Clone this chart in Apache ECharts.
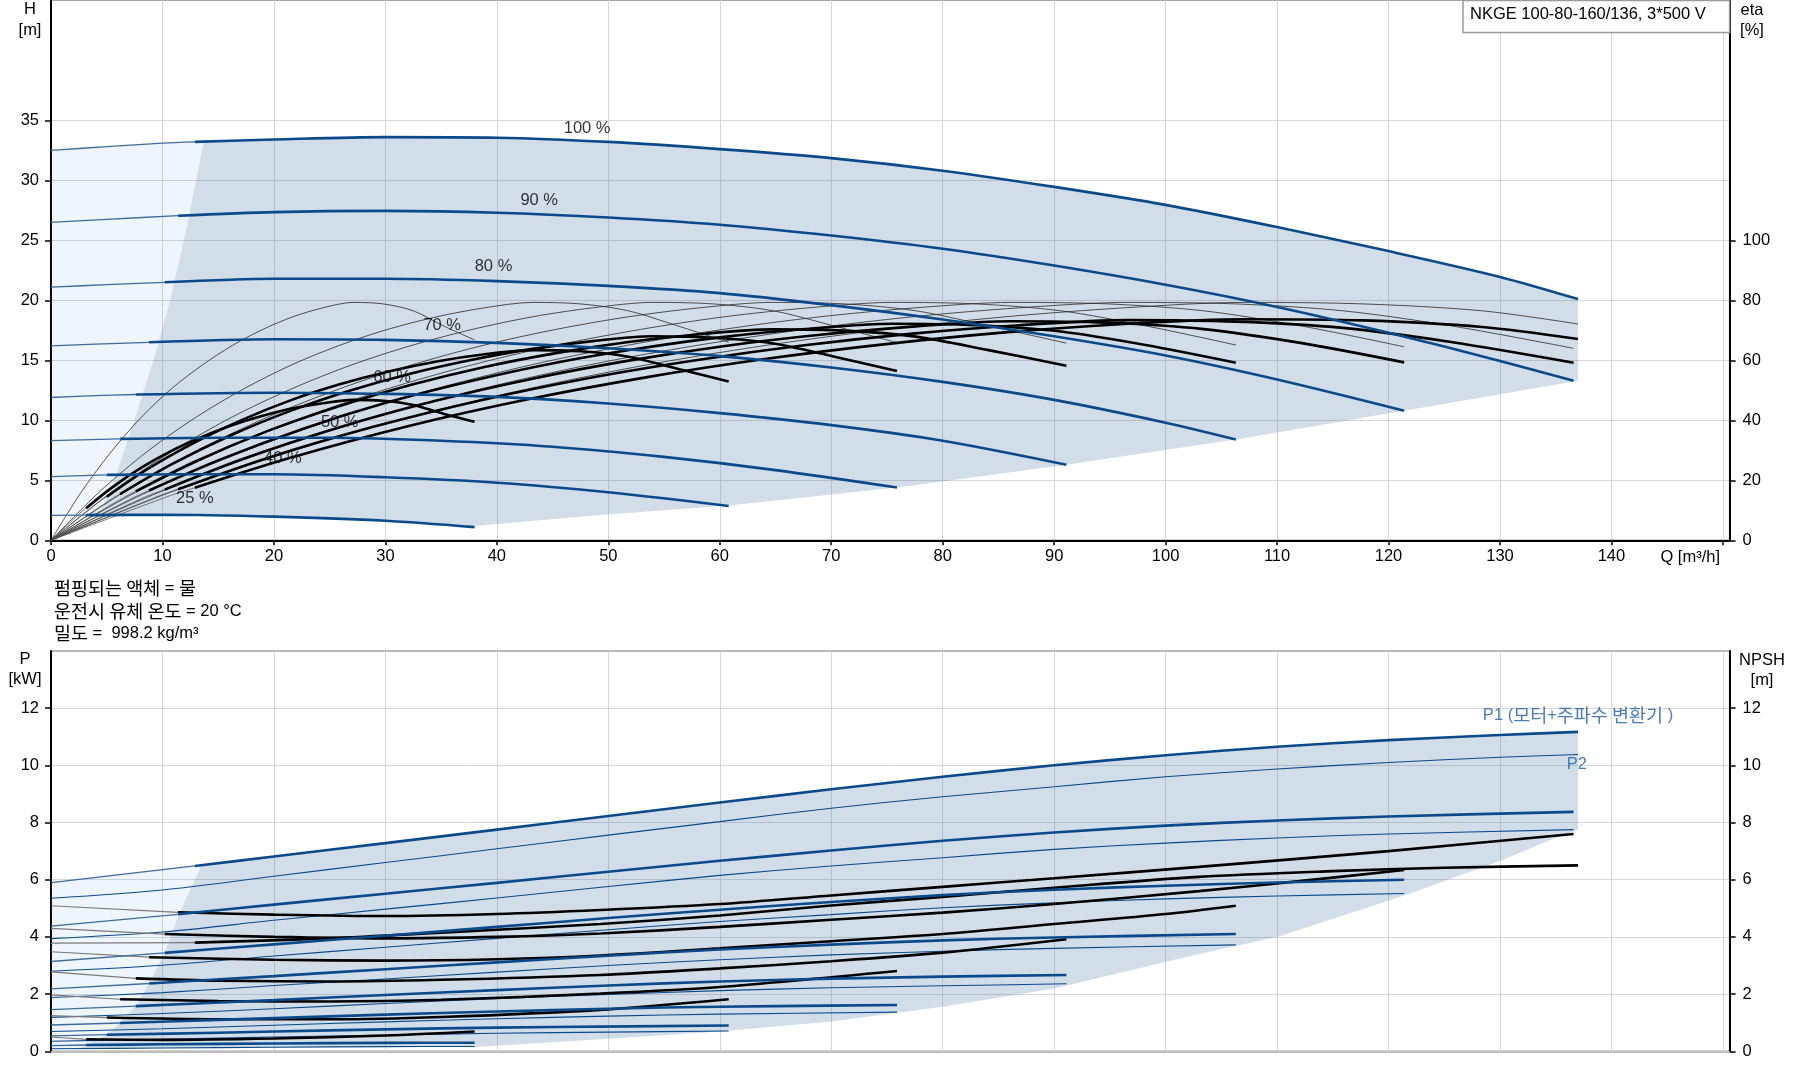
<!DOCTYPE html>
<html>
<head>
<meta charset="utf-8">
<title>NKGE 100-80-160/136</title>
<script src="https://cdn.jsdelivr.net/npm/echarts@6/dist/echarts.min.js"></script>
<style>
  html, body { margin: 0; padding: 0; background: #fff; }
  #chart { width: 1795px; height: 1081px; }
</style>
</head>
<body>
<div id="chart"></div>
<script>
// ---- values ----
const qTicks = [0, 10, 20, 30, 40, 50, 60, 70, 80, 90, 100, 110, 120, 130, 140];
const hTicks = [0, 5, 10, 15, 20, 25, 30, 35];
const etaTicks = [0, 20, 40, 60, 80, 100];
const pTicks = [0, 2, 4, 6, 8, 10, 12];

const speedNames = ['100 %', '90 %', '80 %', '70 %', '60 %', '50 %', '40 %', '25 %'];
const speedLabelQ = [48.1, 43.8, 39.7, 35.1, 30.6, 25.9, 20.8, 12.9];
const speedLabelH = [34.3, 28.3, 22.8, 17.9, 13.6, 9.8, 6.8, 3.5];
// flow where each speed curve turns from thin to thick
const thickFrom = [12.9, 11.4, 10.2, 8.8, 7.6, 6.2, 5.0, 3.15];

// head curves [Q, H]
const h100 = [[0,32.5],[5,32.8],[10,33.1],[12.9,33.2],[20,33.4],[30,33.6],[40,33.55],[50,33.2],[60,32.6],[70,31.85],[80,30.8],[90,29.45],[100,27.95],[110,26.1],[120,24.1],[130,21.95],[137,20.1]];
const h90 = [[0,26.5],[5,26.75],[11.4,27.05],[20,27.35],[30,27.45],[40,27.3],[50,26.9],[60,26.3],[70,25.4],[80,24.3],[90,22.9],[100,21.3],[110,19.45],[120,17.3],[130,14.95],[136.6,13.3]];
const h80 = [[0,21.1],[5,21.3],[10.2,21.5],[20,21.8],[30,21.8],[40,21.6],[50,21.2],[60,20.6],[70,19.6],[80,18.4],[90,17.0],[100,15.4],[110,13.4],[121.4,10.8]];
const h70 = [[0,16.2],[4,16.35],[8.8,16.5],[20,16.75],[30,16.7],[40,16.45],[50,16.0],[60,15.35],[70,14.4],[80,13.2],[90,11.7],[100,9.8],[106.3,8.4]];
const h60 = [[0,11.9],[4,12.05],[7.6,12.15],[20,12.3],[30,12.2],[40,11.95],[50,11.4],[60,10.6],[70,9.6],[80,8.3],[91.1,6.3]];
const h50 = [[0,8.3],[6.2,8.45],[15,8.55],[25,8.55],[35,8.3],[45,7.8],[55,6.95],[65,5.85],[75.9,4.4]];
const h40 = [[0,5.3],[5,5.45],[12,5.5],[20,5.5],[30,5.25],[40,4.8],[50,4.0],[60.8,2.86]];
const h25 = [[0,2.08],[3.15,2.1],[10,2.13],[20,1.97],[30,1.63],[38,1.1]];

// pump efficiency (thin) [Q, eta %]
const etaPump100 = [[0,0],[10.7,16],[21.4,29.5],[32.1,41],[42.8,50.5],[53.5,58.5],[64.2,65],[74.9,70.3],[85.6,74.5],[96.3,77.5],[107,79.3],[117.7,78.8],[128.4,76.5],[137,72.1]];
const etaPump90 = [[0,0],[9.7,16],[19.3,29.5],[29,41],[38.6,50.5],[48.3,58.5],[58,65],[67.6,70.3],[77.3,74.5],[86.9,77.5],[96.6,79.3],[106.3,78.8],[115.9,76.5],[125.6,71.5],[136.6,64]];
const etaPump80 = [[0,0],[8.6,16],[17.2,29.5],[25.9,41],[34.5,50.5],[43.1,58.5],[51.7,65],[60.3,70.3],[69,74.5],[77.6,77.5],[86.2,79.3],[94.8,78.8],[103.4,76.5],[112.1,71.5],[121.4,64.5]];
const etaPump70 = [[0,0],[7.6,16],[15.1,29.5],[22.7,41],[30.2,50.5],[37.8,58.5],[45.3,65],[52.9,70.3],[60.4,74.5],[68,77.5],[75.5,79.3],[83,78.8],[90.6,76.5],[98.2,71.5],[106.3,65.1]];
const etaPump60 = [[0,0],[6.5,16],[12.9,29.5],[19.4,41],[25.9,50.5],[32.4,58.5],[38.8,65],[45.3,70.3],[51.8,74.5],[58.2,77.5],[64.7,79.3],[71.2,78.8],[77.6,76.5],[84.1,71.5],[91.1,65.7]];
const etaPump50 = [[0,0],[5.4,16],[10.8,29.5],[16.2,41],[21.6,50.5],[27,58.5],[32.4,65],[37.8,70.3],[43.2,74.5],[48.6,77.5],[54,79.3],[59.4,78.8],[64.8,76.5],[70.2,71.5],[75.9,65.9]];
const etaPump40 = [[0,0],[4.3,16],[8.6,29.5],[13,41],[17.3,50.5],[21.6,58.5],[25.9,65],[30.2,70.3],[34.6,74.5],[38.9,77.5],[43.2,79.3],[47.5,78.8],[51.8,76.5],[56.2,71.5],[60.8,66]];
const etaPump25 = [[0,0],[2.7,16],[5.4,29.5],[8.1,41],[10.8,50.5],[13.6,58.5],[16.3,65],[19,70.3],[21.7,74.5],[24.4,77.5],[27.1,79.3],[29.8,78.8],[32.5,76.5],[35.2,71.5],[38,66.8]];

// total efficiency (thick inside the operating area) [Q, eta %]
const etaTot100 = [[0,0],[10.7,14.9],[12.9,17.5],[21.4,27.4],[32.1,38.1],[42.8,47],[53.5,54.4],[64.2,60.5],[74.9,65.4],[85.6,69.3],[96.3,72.1],[107,73.7],[117.7,73.3],[128.4,71.1],[137,67.1]];
const etaTot90 = [[0,0],[9.7,14.8],[11.4,17],[19.3,27.3],[29,37.9],[38.6,46.7],[48.3,54.1],[58,60.1],[67.6,65],[77.3,68.9],[86.9,71.7],[96.6,73.4],[106.3,72.9],[115.9,70.8],[125.6,66.1],[136.6,59.2]];
const etaTot80 = [[0,0],[8.6,14.7],[10.2,16.9],[17.2,27.1],[25.9,37.7],[34.5,46.5],[43.1,53.8],[51.7,59.8],[60.3,64.7],[69,68.5],[77.6,71.3],[86.2,73],[94.8,72.5],[103.4,70.4],[112.1,65.8],[121.4,59.3]];
const etaTot70 = [[0,0],[7.6,14.6],[8.8,16.6],[15.1,26.8],[22.7,37.3],[30.2,46],[37.8,53.2],[45.3,59.2],[52.9,64],[60.4,67.8],[68,70.5],[75.5,72.2],[83,71.7],[90.6,69.6],[98.2,65.1],[106.3,59.2]];
const etaTot60 = [[0,0],[6.5,14.2],[7.6,16.3],[12.9,26.2],[19.4,36.4],[25.9,44.8],[32.4,51.9],[38.8,57.7],[45.3,62.4],[51.8,66.1],[58.2,68.7],[64.7,70.3],[71.2,69.9],[77.6,67.9],[84.1,63.4],[91.1,58.2]];
const etaTot50 = [[0,0],[5.4,13.7],[6.2,15.4],[10.8,25.3],[16.2,35.1],[21.6,43.3],[27,50.1],[32.4,55.7],[37.8,60.2],[43.2,63.8],[48.6,66.4],[54,68],[59.4,67.5],[64.8,65.6],[70.2,61.3],[75.9,56.4]];
const etaTot40 = [[0,0],[4.3,12.8],[5,14.5],[8.6,23.6],[13,32.8],[17.3,40.4],[21.6,46.8],[25.9,52],[30.2,56.2],[34.6,59.6],[38.9,62],[43.2,63.4],[47.5,63],[51.8,61.2],[56.2,57.2],[60.8,52.9]];
const etaTot25 = [[0,0],[2.7,9.4],[3.15,10.7],[5.4,17.4],[8.1,24.2],[10.8,29.8],[13.6,34.5],[16.3,38.4],[19,41.5],[21.7,44],[24.4,45.7],[27.1,46.8],[29.8,46.5],[32.5,45.1],[35.2,42.2],[38,39.5]];

// operating area outline, upper chart [Q, H]
const minFlowEdge = [[3.15,2.1],[4.5,2.5],[5.4,4.2],[7.4,9.8],[9.2,15],[10.7,20],[12.3,26.6],[13.7,33.2]];
const maxFlowEdge = [[137,20.1],[137,13.3],[121.4,10.8],[106.3,8.4],[91.1,6.3],[75.9,4.4],[60.8,2.9],[49.3,2.1],[38,1.2]];

// power P1 (motor + converter) [Q, kW]
const p1_100 = [[0,5.9],[12.9,6.48],[20,6.81],[30,7.28],[40,7.75],[50,8.23],[60,8.7],[70,9.16],[80,9.6],[90,10.0],[100,10.35],[110,10.65],[120,10.88],[130,11.06],[137,11.17]];
const p1_90 = [[0,4.38],[11.4,4.79],[20,5.13],[30,5.51],[40,5.89],[50,6.28],[60,6.66],[70,7.02],[80,7.36],[90,7.65],[100,7.89],[110,8.07],[120,8.21],[136.6,8.37]];
const p1_80 = [[0,3.14],[10.2,3.44],[20,3.74],[30,4.04],[40,4.35],[50,4.66],[60,4.95],[70,5.22],[80,5.46],[90,5.65],[100,5.79],[110,5.9],[121.4,6.0]];
const p1_70 = [[0,2.18],[8.8,2.37],[20,2.63],[30,2.87],[40,3.11],[50,3.34],[60,3.56],[70,3.73],[80,3.88],[90,3.98],[106.3,4.1]];
const p1_60 = [[0,1.46],[7.6,1.58],[20,1.79],[30,1.97],[40,2.14],[50,2.3],[60,2.44],[70,2.54],[80,2.61],[91.1,2.67]];
const p1_50 = [[0,0.92],[6.2,0.99],[15,1.1],[25,1.22],[35,1.34],[45,1.44],[55,1.53],[65,1.58],[75.9,1.62]];
const p1_40 = [[0,0.54],[5,0.58],[15,0.65],[25,0.73],[35,0.8],[45,0.85],[60.8,0.9]];
const p1_25 = [[0,0.2],[3.15,0.22],[10,0.245],[20,0.275],[30,0.296],[38,0.3]];

// shaft power P2 [Q, kW]
const p2_100 = [[0,5.35],[10,5.64],[20,6.12],[30,6.6],[40,7.08],[50,7.56],[60,8.03],[70,8.5],[80,8.9],[90,9.25],[100,9.6],[110,9.87],[120,10.1],[130,10.28],[137,10.38]];
const p2_90 = [[0,3.94],[10,4.17],[20,4.58],[30,4.97],[40,5.36],[50,5.76],[60,6.15],[70,6.48],[80,6.77],[90,7.06],[100,7.28],[110,7.46],[120,7.6],[136.6,7.75]];
const p2_80 = [[0,2.8],[10,3.01],[20,3.33],[30,3.64],[40,3.95],[50,4.25],[60,4.54],[70,4.78],[80,5.02],[90,5.19],[100,5.33],[110,5.43],[121.4,5.52]];
const p2_70 = [[0,1.88],[10,2.05],[20,2.3],[30,2.53],[40,2.77],[50,3.0],[60,3.2],[70,3.37],[80,3.5],[90,3.6],[106.3,3.72]];
const p2_60 = [[0,1.185],[10,1.32],[20,1.49],[30,1.67],[40,1.84],[50,1.99],[60,2.12],[70,2.22],[80,2.29],[91.1,2.36]];
const p2_50 = [[0,0.69],[10,0.79],[20,0.91],[30,1.03],[40,1.14],[50,1.23],[60,1.3],[75.9,1.37]];
const p2_40 = [[0,0.35],[10,0.42],[20,0.5],[30,0.57],[40,0.63],[50,0.67],[60.8,0.71]];
const p2_25 = [[0,0.087],[10,0.114],[20,0.144],[30,0.163],[38,0.17]];

// NPSH [Q, m]
const npsh100 = [[0,3.78],[12.9,3.8],[25,3.95],[35,4.15],[49.3,4.45],[60,4.75],[70,5.1],[80,5.4],[90,5.72],[103,6.1],[115,6.3],[125,6.42],[137,6.5]];
const npsh90 = [[0,5.09],[11.4,4.86],[20,4.78],[30,4.73],[40,4.8],[49.3,4.94],[60,5.15],[70,5.45],[80,5.75],[90,6.05],[103,6.45],[120,7.0],[136.6,7.6]];
const npsh80 = [[0,4.3],[10.2,4.1],[20,4.0],[30,3.95],[40,4.0],[49.3,4.12],[60,4.35],[70,4.6],[80,4.85],[90,5.15],[103,5.6],[112,5.95],[121.4,6.34]];
const npsh70 = [[0,3.48],[8.8,3.29],[20,3.2],[30,3.17],[40,3.22],[49.3,3.35],[60,3.6],[70,3.85],[80,4.1],[90,4.45],[100,4.8],[106.3,5.09]];
const npsh60 = [[0,2.78],[7.6,2.55],[15,2.47],[25,2.44],[35,2.5],[49.3,2.67],[60,2.9],[70,3.15],[80,3.45],[91.1,3.92]];
const npsh50 = [[0,1.97],[6.2,1.82],[15,1.76],[25,1.74],[35,1.8],[49.3,2.02],[60,2.25],[75.9,2.81]];
const npsh40 = [[0,1.25],[5,1.18],[15,1.12],[25,1.12],[35,1.2],[49.3,1.45],[60.8,1.82]];
const npsh25 = [[0,0.5],[3.15,0.42],[10,0.4],[20,0.45],[30,0.55],[38,0.69]];

// operating area outline, lower chart [Q, kW]
const pMinFlowEdge = [[2.5,0.1],[3.15,0.22],[5,0.58],[6.2,1.0],[7.6,1.58],[8.8,2.37],[10.2,3.45],[11.5,4.8],[13.5,6.5]];
const pMaxFlowEdge = [[137,11.17],[137,7.75],[134.5,7.39],[130,6.65],[121.4,5.45],[110,4.0],[103,3.4],[90,2.2],[80,1.56],[70,1.04],[60,0.69],[49.3,0.42],[38,0.15]];

const p1LabelAt = [137.0, 11.76];
const p2LabelAt = [136.9, 10.04];

const headCurves = [h100, h90, h80, h70, h60, h50, h40, h25];
const etaPumpCurves = [etaPump100, etaPump90, etaPump80, etaPump70, etaPump60, etaPump50, etaPump40, etaPump25];
const etaTotCurves = [etaTot100, etaTot90, etaTot80, etaTot70, etaTot60, etaTot50, etaTot40, etaTot25];
const p1Curves = [p1_100, p1_90, p1_80, p1_70, p1_60, p1_50, p1_40, p1_25];
const p2Curves = [p2_100, p2_90, p2_80, p2_70, p2_60, p2_50, p2_40, p2_25];
const npshCurves = [npsh100, npsh90, npsh80, npsh70, npsh60, npsh50, npsh40, npsh25];

// ---- styling ----
const FONT = '"Liberation Sans", Arial, sans-serif';
const KFONT = '"Noto Sans CJK KR", "Liberation Sans", sans-serif';
const FS = 16.5;
const BLUE = '#0b4a8a';
const BLUE_THIN = '#3f6c9c';
const DARK_FILL = 'rgba(71,119,163,0.25)';
const LIGHT_FILL = 'rgba(85,155,225,0.10)';
const richKo = (color, size) => ({
  l: { fontFamily: FONT, fontSize: FS, color },
  k: { fontFamily: KFONT, fontSize: size, color }
});

const series = [];

function line(data, xi, yi, color, width, z) {
  return {
    type: 'line', xAxisIndex: xi, yAxisIndex: yi, data,
    symbol: 'none', smooth: 0.3, silent: true, z,
    lineStyle: { color, width }
  };
}
function splitLine(pts, from, xi, yi, thick, thin, thinW, z) {
  series.push(line(pts.filter(p => p[0] <= from), xi, yi, thin, thinW, z));
  series.push(line(pts.filter(p => p[0] >= from), xi, yi, thick, 2.6, z + 1));
}
function area(points, fill, xi, yi) {
  series.push({
    type: 'custom', xAxisIndex: xi, yAxisIndex: yi, silent: true, z: 1, clip: true,
    data: [[0, 0]],
    renderItem: (params, api) => ({
      type: 'polygon',
      shape: { points: points.map(p => api.coord(p)) },
      style: { fill }
    })
  });
}

// upper operating area
const topDark = [[13.7, 33.2]].concat(h100.filter(p => p[0] > 13.7));
const lowerH25 = h25.filter(p => p[0] < 38 && p[0] > 3.15).reverse();
area(topDark.concat(maxFlowEdge.slice(1), lowerH25, minFlowEdge), DARK_FILL, 0, 0);
area(h100.filter(p => p[0] < 13.7).concat(minFlowEdge.slice().reverse(), [[0, 2.08]]), LIGHT_FILL, 0, 0);

// lower operating area
const topDarkP = [[13.5, 6.5]].concat(p1_100.filter(p => p[0] > 13.5));
const lowerP = [[30, 0.163], [20, 0.144], [10, 0.114]];
area(topDarkP.concat(pMaxFlowEdge.slice(1), lowerP, pMinFlowEdge), DARK_FILL, 1, 2);
area(p1_100.filter(p => p[0] < 13.5).concat(pMinFlowEdge.slice().reverse(), [[0, 0.087]]), LIGHT_FILL, 1, 2);

for (let i = 0; i < 8; i++) {
  // upper chart
  series.push(line(etaPumpCurves[i], 0, 1, '#2a2a2a', 0.8, 3));
  splitLine(etaTotCurves[i], thickFrom[i], 0, 1, '#000', '#555', 0.8, 4);
  splitLine(headCurves[i], thickFrom[i], 0, 0, BLUE, BLUE_THIN, 1.3, 6);
  // lower chart
  series.push(line(p2Curves[i], 1, 2, BLUE, 1.1, 3));
  splitLine(npshCurves[i], thickFrom[i], 1, 3, '#000', '#7a7a7a', 1.2, 4);
  splitLine(p1Curves[i], thickFrom[i], 1, 2, BLUE, BLUE_THIN, 1.3, 6);
}

// curve labels
series.push({
  type: 'scatter', xAxisIndex: 0, yAxisIndex: 0, symbol: 'rect', symbolSize: 1, silent: true, z: 10,
  itemStyle: { color: 'transparent' },
  label: { show: true, position: 'inside', formatter: '{b}', color: '#000', fontSize: FS, fontFamily: FONT },
  data: speedNames.map((n, i) => ({ name: n, value: [speedLabelQ[i], speedLabelH[i]] }))
});
series.push({
  type: 'scatter', xAxisIndex: 1, yAxisIndex: 2, symbol: 'rect', symbolSize: 1, silent: true, z: 10,
  itemStyle: { color: 'transparent' },
  label: { show: true, position: 'inside', formatter: '{b}', color: '#1d5da4', fontSize: FS, fontFamily: FONT, rich: richKo('#1d5da4', 18.5) },
  data: [
    { name: '{l|P1 (}{k|모터}{l|+}{k|주파수 변환기}{l| )}', value: p1LabelAt },
    { name: 'P2', value: p2LabelAt }
  ]
});

const axisText = { color: '#000', fontSize: FS, fontFamily: FONT };
const gridLine = { show: true, lineStyle: { color: '#d6d6d6', width: 1 } };
const blackLine = { show: true, onZero: false, lineStyle: { color: '#000', width: 2 } };
const tickStyle = { color: '#000', width: 1.5 };
const upTo = (max) => (v) => (v <= max + 1e-6 ? String(v) : '');

function text(x, y, str, align, rich) {
  const style = {
    text: str, fill: '#000', fontSize: FS, fontFamily: FONT,
    align: align || 'center', verticalAlign: 'middle',
    textAlign: align || 'center', textVerticalAlign: 'middle'
  };
  if (rich) style.rich = rich;
  return { type: 'text', x, y, silent: true, z: 20, style };
}

const chart = echarts.init(document.getElementById('chart'));
chart.setOption({
  animation: false,
  backgroundColor: '#fff',
  grid: [
    { left: 51, top: 0.3, width: 1678.6, height: 540, show: true, borderColor: '#a3a3a3', borderWidth: 1.5 },
    { left: 51, top: 650.9, width: 1678.6, height: 400.4, show: true, borderColor: '#a3a3a3', borderWidth: 1.5 }
  ],
  xAxis: [
    {
      gridIndex: 0, type: 'value', min: 0, max: 150.6, interval: 10,
      axisLine: blackLine,
      axisTick: { show: true, customValues: qTicks.concat([150]), length: 5, lineStyle: tickStyle },
      axisLabel: { customValues: qTicks, formatter: upTo(140), margin: 8, ...axisText },
      splitLine: gridLine
    },
    {
      gridIndex: 1, type: 'value', min: 0, max: 150.6, interval: 10,
      axisLine: { show: true, onZero: false, lineStyle: { color: '#bdbdbd', width: 2 } },
      axisTick: { show: false }, axisLabel: { show: false },
      splitLine: gridLine
    }
  ],
  yAxis: [
    {
      gridIndex: 0, type: 'value', min: 0, max: 45, interval: 5, position: 'left',
      axisLine: blackLine,
      axisTick: { show: true, customValues: hTicks, length: 6, lineStyle: tickStyle },
      axisLabel: { customValues: hTicks, formatter: upTo(35), margin: 12, ...axisText },
      splitLine: gridLine
    },
    {
      gridIndex: 0, type: 'value', min: 0, max: 180, interval: 20, position: 'right',
      axisLine: blackLine,
      axisTick: { show: true, customValues: etaTicks, length: 6, lineStyle: tickStyle },
      axisLabel: { customValues: etaTicks, formatter: upTo(100), margin: 13, ...axisText },
      splitLine: { show: false }
    },
    {
      gridIndex: 1, type: 'value', min: 0, max: 14, interval: 2, position: 'left',
      axisLine: blackLine,
      axisTick: { show: true, customValues: pTicks, length: 6, lineStyle: tickStyle },
      axisLabel: { customValues: pTicks, formatter: upTo(12), margin: 12, ...axisText },
      splitLine: gridLine
    },
    {
      gridIndex: 1, type: 'value', min: 0, max: 14, interval: 2, position: 'right',
      axisLine: blackLine,
      axisTick: { show: true, customValues: pTicks, length: 6, lineStyle: tickStyle },
      axisLabel: { customValues: pTicks, formatter: upTo(12), margin: 13, ...axisText },
      splitLine: { show: false }
    }
  ],
  graphic: [
    text(30, 9, 'H'), text(30, 30, '[m]'),
    text(1752, 10, 'eta'), text(1752, 30, '[%]'),
    text(25, 659, 'P'), text(25, 679, '[kW]'),
    text(1762, 660, 'NPSH'), text(1762, 680, '[m]'),
    text(1720, 557, 'Q [m³/h]', 'right'),
    {
      type: 'rect', silent: true, z: 19,
      shape: { x: 1463, y: 0.5, width: 266.6, height: 32 },
      style: { fill: '#fff', stroke: '#9a9a9a', lineWidth: 1.5 }
    },
    text(1470, 14, 'NKGE 100-80-160/136, 3*500 V', 'left'),
    text(54, 588, '{k|펌핑되는 액체} {l|=} {k|물}', 'left', richKo('#000', 18.5)),
    text(54, 611, '{k|운전시 유체 온도} {l|= 20 °C}', 'left', richKo('#000', 18.5)),
    text(54, 633, '{k|밀도} {l|=  998.2 kg/m³}', 'left', richKo('#000', 18.5))
  ],
  series
});
</script>
</body>
</html>
